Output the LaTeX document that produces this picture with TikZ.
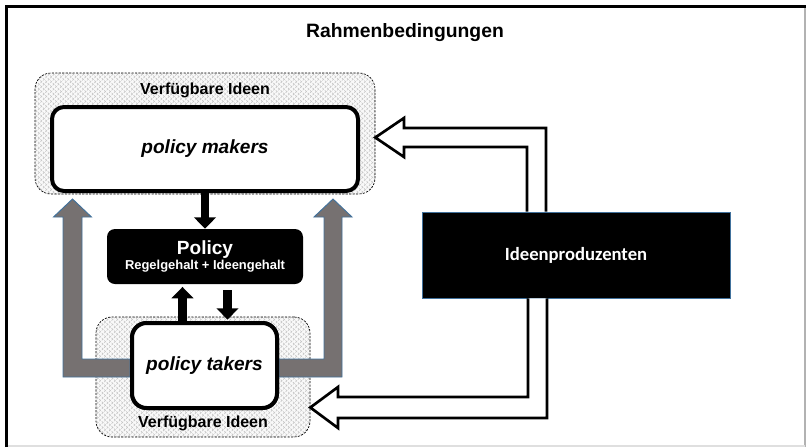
\documentclass[tikz,border=0pt]{standalone}
\usepackage{fontspec}
\setmainfont{Liberation Sans}
\newfontfamily\calibri{Carlito}
\usetikzlibrary{positioning,patterns.meta,arrows.meta}
\definecolor{arrowgrey}{HTML}{767171}
\definecolor{edgeblue}{HTML}{41719C}
\tikzset{
	% dotted boxes with the available ideas
	ideasbox/.style={draw, dashed, dash pattern=on 1.6pt off 1pt, line width=0.5pt,
		rounded corners=12pt, inner sep=0pt, preaction={fill=gray!5},
		preaction={pattern={Lines[angle=45,distance=2.6pt,line width=0.45pt]}, pattern color=gray!45},
		pattern={Lines[angle=-45,distance=2.6pt,line width=0.45pt]}, pattern color=gray!45},
	ideastext/.style={font=\fontsize{12}{14}\selectfont\bfseries},
	% the actors
	actorbox/.style={draw, line width=3pt, fill=white, inner sep=0pt,
		font=\fontsize{14.3}{16}\selectfont\bfseries\itshape},
	% block arrows
	blackarrow/.style={line width=6.5pt, -{Triangle[width=16pt,length=8.5pt]}},
	greyarrow/.style={fill=arrowgrey, draw=edgeblue, line width=0.7pt, line join=miter},
	hollowarrow/.style={fill=white, draw=black, line width=2pt, line join=miter},
}
\begin{document}
\begin{tikzpicture}[x=0.75pt,y=-0.75pt]
\useasboundingbox (0,0) rectangle (807,447);
% frame
\draw[gray!60, line width=0.8pt] (805,6) -- (805,447);
\draw[gray!25, line width=0.8pt] (6,446) -- (805,446);
\draw[line width=2.6pt] (6.5,447) -- (6.5,6.5) -- (806,6.5);
\node[font=\fontsize{14.5}{16}\selectfont\bfseries] (title) at (405,33) {Rahmenbedingungen};

% the boxes with the ideas
\node[ideasbox, minimum width=255pt, minimum height=90.75pt] (ideastop) at (205,133.5) {};
\node[ideasbox, minimum width=160.5pt, minimum height=90pt] (ideasbottom) at (203,377) {};
\node[ideastext] (ideastoptext) at (205,90) {Verfügbare Ideen};
\node[ideastext] (ideasbottomtext) at (203,423) {Verfügbare Ideen};

% grey feedback arrows
\node[actorbox, rounded corners=11pt, minimum width=108.75pt, minimum height=63.75pt] (takers) at (204.5,365.5) {policy takers};
\draw[greyarrow] (takers.west |- 0,359) -| (82,217) -- (91.5,217) -- (72.5,199)
	-- (53.5,217) -- (63,217) |- (takers.west |- 0,377) -- cycle;
\draw[greyarrow] (takers.east |- 0,359) -| (324,217) -- (314,217) -- (333,199)
	-- (352,217) -- (342,217) |- (takers.east |- 0,377) -- cycle;
\node[actorbox, rounded corners=11pt, minimum width=108.75pt, minimum height=63.75pt] at (takers) {policy takers};

% the actors
\node[actorbox, rounded corners=9pt, minimum width=229.5pt, minimum height=63pt] (makers) at (205,149) {policy makers};
\node[fill=black, text=white, rounded corners=6pt, inner sep=0pt, align=center,
	minimum width=147pt, minimum height=41.25pt] (policy) at (205,256.5)
	{{\fontsize{14.3}{15}\selectfont\bfseries Policy}\\[-1pt]{\fontsize{9.7}{11}\selectfont\bfseries Regelgehalt + Ideengehalt}};
\node[fill=black, draw=edgeblue, line width=0.6pt, text=white, inner sep=0pt,
	minimum width=231pt, minimum height=64.5pt, font=\calibri\fontsize{14}{16}\selectfont\bfseries] (ideen) at (576,255) {Ideenproduzenten};

% arrows between makers, policy and takers
\draw[blackarrow] (makers.south) -- (policy.north);
\draw[blackarrow, shorten >=2pt] (takers.north -| 182.5,0) -- (policy.south -| 182.5,0);
\draw[blackarrow, shorten <=4.5pt, shorten >=1pt] (policy.south -| 227.5,0) -- (takers.north -| 227.5,0);

% arrows from the producers of ideas
\filldraw[hollowarrow] (ideen.north -| 546,0) -- (546,128) -- (404,128) -- (404,118) -- (ideastop.east |- 0,137.5)
	-- (404,157) -- (404,147) -- (527,147) -- (ideen.north -| 527,0);
\filldraw[hollowarrow] (ideen.south -| 528,0) -- (528,397) -- (338,397) -- (338,387) -- (ideasbottom.east |- 0,407.5)
	-- (338,428) -- (338,418) -- (547,418) -- (ideen.south -| 547,0);
\end{tikzpicture}
\end{document}
